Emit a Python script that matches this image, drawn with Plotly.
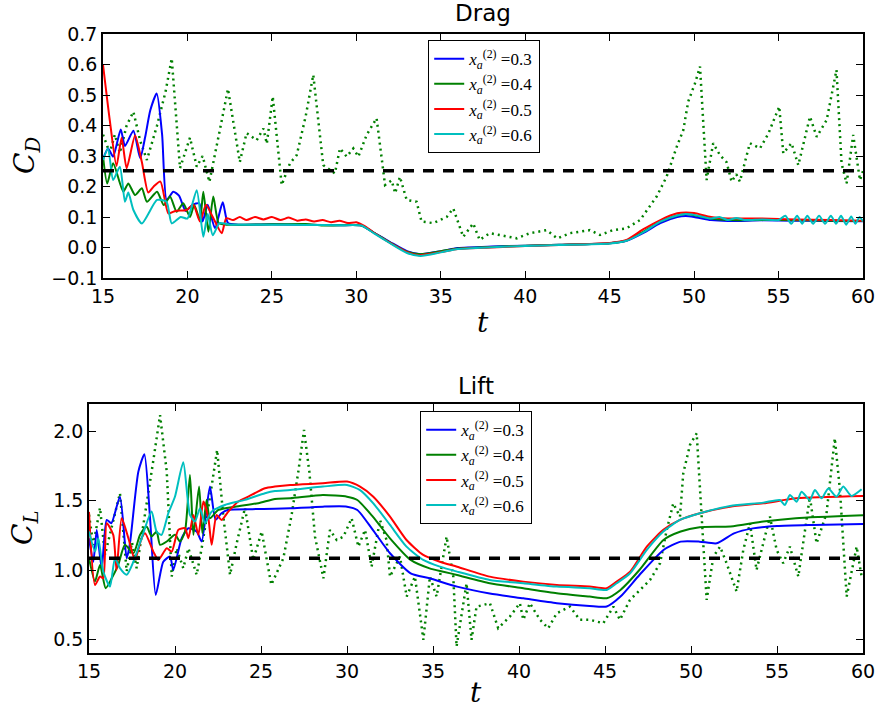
import plotly.graph_objects as go

# ---------------- data ----------------
t_range = [15, 60]
labels = ["0.3", "0.4", "0.5", "0.6"]
colors = ["#0000ff", "#008000", "#ff0000", "#00bfbf"]

cd_mean = 0.252
cl_mean = 1.085

# Drag, reference (dotted)
t_d_ref = [15.0, 15.4, 15.7, 16.0, 16.4, 16.8, 17.2, 17.6, 18.2, 18.7, 19.07, 19.56, 20.15, 20.55, 20.9, 21.3, 21.9, 22.4, 23.1, 23.5,
           24.1, 24.5, 24.7, 25.05, 25.58, 26.07, 26.47, 27.0, 27.45, 28.04, 28.73, 29.03, 29.43, 29.82, 30.12, 30.61, 31.2, 31.7,
           32.09, 32.3, 32.58, 32.98, 33.57, 33.86, 34.56, 35.35, 35.74, 36.33, 36.92, 37.3, 37.9, 38.5, 39.5, 40.28, 41.27, 41.9,
           42.65, 43.24, 43.83, 44.43, 45.2, 46.0, 46.8, 47.78, 48.37, 48.97, 49.36, 49.65, 50.05, 50.35, 50.54, 50.74, 51.13,
           51.53, 51.92, 52.22, 52.5, 52.71, 53.3, 53.9, 54.4, 55.04, 55.28, 55.77, 56.17, 56.86, 57.26, 57.85, 58.43, 58.73,
           59.03, 59.42, 59.82, 60.0]
cd_ref = [0.37, 0.31, 0.37, 0.31, 0.4, 0.445, 0.35, 0.287, 0.4, 0.51, 0.62, 0.26, 0.36, 0.265, 0.3, 0.215, 0.38, 0.52, 0.28, 0.375,
          0.352, 0.39, 0.34, 0.495, 0.205, 0.276, 0.303, 0.43, 0.566, 0.27, 0.243, 0.325, 0.298, 0.325, 0.298, 0.369, 0.424, 0.205,
          0.22, 0.178, 0.232, 0.156, 0.15, 0.085, 0.08, 0.1, 0.128, 0.035, 0.079, 0.025, 0.047, 0.04, 0.03, 0.047, 0.057, 0.03,
          0.047, 0.052, 0.057, 0.041, 0.057, 0.063, 0.09, 0.167, 0.232, 0.33, 0.385, 0.478, 0.538, 0.593, 0.418, 0.221, 0.342,
          0.303, 0.28, 0.216, 0.24, 0.216, 0.342, 0.325, 0.374, 0.462, 0.309, 0.342, 0.27, 0.429, 0.363, 0.418, 0.582, 0.276,
          0.21, 0.369, 0.221, 0.25]

# Drag, controlled cases
t_d_blue = [15.0, 15.3, 15.6, 16.05, 16.3, 16.8, 17.2, 17.5, 17.8, 18.18, 18.5, 18.77, 19.16, 19.5, 19.9, 20.3, 20.7, 20.9, 21.2,
            21.63, 22.09, 22.4, 23, 25, 27, 29, 30.3, 31, 32, 33, 33.8, 35, 36, 38, 40, 42, 45, 46, 47, 48, 49, 49.5, 50, 51,
            52, 54, 56, 58, 60]
cd_blue = [0.29, 0.325, 0.298, 0.387, 0.333, 0.383, 0.293, 0.363, 0.45, 0.505, 0.37, 0.156, 0.183, 0.17, 0.12, 0.14, 0.145, 0.085,
           0.14, 0.063, 0.148, 0.08, 0.075, 0.076, 0.075, 0.073, 0.072, 0.05, 0.018, -0.012, -0.022, -0.012, -0.002, 0.003, 0.006,
           0.009, 0.014, 0.022, 0.048, 0.08, 0.1, 0.103, 0.1, 0.09, 0.087, 0.089, 0.088, 0.087, 0.086]

t_d_green = [15.0, 15.25, 15.6, 16.2, 16.5, 16.9, 17.3, 17.6, 18.2, 18.6, 18.97, 19.36, 19.75, 20.15, 20.4, 20.74, 20.94, 21.24,
             21.53, 21.85, 22.3, 25, 27, 28, 29, 30.3, 31, 32, 33, 33.8, 35, 36, 38, 40, 42, 45, 46, 47, 48, 49, 49.5, 50, 51,
             52, 55, 58, 60]
cd_green = [0.3, 0.21, 0.276, 0.183, 0.21, 0.172, 0.194, 0.15, 0.183, 0.139, 0.167, 0.117, 0.145, 0.1, 0.14, 0.09, 0.183, 0.052,
            0.167, 0.08, 0.075, 0.076, 0.077, 0.072, 0.073, 0.072, 0.05, 0.016, -0.014, -0.022, -0.012, -0.003, 0.002, 0.006,
            0.009, 0.014, 0.023, 0.052, 0.085, 0.105, 0.11, 0.106, 0.095, 0.09, 0.09, 0.088, 0.087]

t_d_red = [15.0, 15.4, 15.8, 16.1, 16.4, 16.9, 17.3, 17.68, 18.0, 18.4, 18.87, 19.3, 19.95, 20.35, 20.74, 21.1, 21.5, 22.03, 22.3,
           22.7, 23.1, 23.5, 24, 24.5, 25, 25.5, 26, 26.5, 27, 27.5, 28, 28.5, 29, 29.5, 30, 30.5, 31, 32, 33, 33.7, 35, 36, 38,
           40, 42, 45, 46, 47, 48, 49, 49.5, 50, 51, 52, 54, 56, 58, 60]
cd_red = [0.6, 0.418, 0.267, 0.36, 0.26, 0.367, 0.28, 0.18, 0.2, 0.216, 0.112, 0.12, 0.123, 0.14, 0.085, 0.14, 0.1, 0.047, 0.096,
          0.09, 0.1, 0.09, 0.1, 0.092, 0.1, 0.09, 0.098, 0.088, 0.092, 0.085, 0.09, 0.083, 0.088, 0.08, 0.083, 0.07, 0.05, 0.015,
          -0.015, -0.025, -0.015, -0.005, 0.0, 0.005, 0.008, 0.015, 0.025, 0.06, 0.09, 0.112, 0.115, 0.113, 0.1, 0.095, 0.095,
          0.092, 0.09, 0.088]

t_d_cyan = [15.0, 15.3, 15.6, 16.0, 16.3, 16.5, 16.8, 17.3, 18.2, 18.76, 19.07, 19.6, 20.0, 20.55, 20.94, 21.2, 21.5, 21.9, 22.5,
            25, 27, 29, 30.3, 31, 32, 33, 33.8, 35, 36, 38, 40, 42, 45, 46, 47, 48, 49, 49.5, 50, 51, 51.5, 52, 52.5, 53, 54,
            55, 55.4, 55.75, 56.1, 56.4, 56.7, 57.05, 57.4, 57.75, 58.1, 58.4, 58.7, 59.0, 59.3, 59.55, 59.8, 60]
cd_cyan = [0.287, 0.325, 0.221, 0.265, 0.15, 0.18, 0.123, 0.079, 0.156, 0.15, 0.079, 0.1, 0.095, 0.188, 0.035, 0.11, 0.04, 0.08,
           0.075, 0.075, 0.074, 0.073, 0.072, 0.048, 0.014, -0.018, -0.028, -0.016, -0.005, 0.001, 0.005, 0.008, 0.013, 0.022,
           0.05, 0.085, 0.105, 0.11, 0.107, 0.095, 0.1, 0.09, 0.097, 0.09, 0.092, 0.09, 0.104, 0.078, 0.104, 0.078, 0.104, 0.078,
           0.104, 0.078, 0.104, 0.078, 0.104, 0.075, 0.102, 0.078, 0.1, 0.085]

# Lift, reference (dotted)
t_l_ref = [15.0, 15.25, 15.64, 15.93, 16.3, 16.8, 17.19, 17.5, 17.77, 18.35, 18.75, 19.13, 19.52, 19.81, 20.1, 20.48, 20.78, 21.26,
           21.55, 22.0, 22.45, 22.8, 23.2, 23.6, 24.07, 24.55, 25.04, 25.6, 26.3, 26.78, 27.17, 27.5, 27.81, 28.14, 28.63, 29.01,
           29.4, 29.79, 30.27, 30.66, 31.05, 31.43, 31.92, 32.3, 32.5, 33.08, 33.47, 33.95, 34.44, 34.82, 35.21, 35.79, 36.18,
           36.37, 36.95, 37.24, 37.53, 38.31, 38.79, 39.47, 40.05, 40.25, 40.63, 41.22, 41.7, 42.19, 42.96, 43.54, 44.13, 44.9,
           45.49, 45.87, 46.45, 47.04, 47.62, 48.2, 48.59, 48.97, 49.36, 49.55, 49.94, 50.33, 50.52, 50.72, 50.91, 51.3, 51.69,
           52.07, 52.65, 53.04, 53.43, 53.81, 54.59, 54.98, 55.36, 55.75, 56.24, 56.91, 57.3, 57.88, 58.36, 58.66, 59.05, 59.63,
           59.92]
cl_ref = [1.40, 1.18, 1.45, 1.11, 1.3, 1.555, 0.99, 1.2, 1.013, 1.47, 1.8, 2.12, 1.711, 0.953, 1.157, 1.013, 1.157, 0.965, 1.157,
          1.5, 1.868, 1.4, 0.965, 1.2, 1.45, 1.073, 1.278, 0.893, 1.085, 1.398, 1.711, 2.012, 1.711, 1.241, 0.94, 1.29, 1.217,
          1.241, 1.374, 1.169, 1.29, 1.024, 1.362, 1.217, 0.952, 1.097, 0.808, 0.952, 0.495, 0.952, 0.808, 1.241, 0.952, 0.447,
          0.904, 0.495, 0.735, 0.76, 0.579, 0.663, 0.76, 0.64, 0.76, 0.64, 0.579, 0.687, 0.735, 0.64, 0.64, 0.615, 0.735, 0.64,
          0.784, 0.856, 0.928, 1.049, 1.29, 1.482, 1.386, 1.699, 1.904, 1.988, 1.578, 1.145, 0.784, 1.097, 1.169, 1.049, 0.844,
          1.145, 1.338, 1.0, 1.386, 1.145, 1.049, 1.169, 0.952, 1.53, 1.193, 1.41, 1.952, 1.578, 0.808, 1.169, 0.952]

# Lift, controlled cases
t_l_blue = [15.0, 15.25, 15.45, 15.74, 16.03, 16.3, 16.8, 17.19, 17.38, 17.87, 18.22, 18.55, 18.88, 19.32, 19.71, 19.9, 20.39,
            20.78, 21.26, 21.55, 22.03, 22.36, 22.7, 23.1, 24.5, 25.8, 26.7, 28.6, 30.0, 30.6, 31.5, 32.5, 33.7, 34.8, 36.4,
            38.3, 40.25, 42.2, 44.1, 45.1, 45.9, 47.0, 48.4, 49.4, 50.5, 51.5, 52.5, 53.6, 55.0, 57.1, 60.0]
cl_blue = [1.23, 1.06, 1.29, 1.01, 1.362, 1.338, 1.53, 1.085, 1.193, 1.711, 1.836, 1.374, 0.82, 1.06, 1.097, 1.0, 1.23, 1.302,
           1.278, 1.206, 1.603, 1.362, 1.41, 1.435, 1.44, 1.442, 1.446, 1.458, 1.458, 1.434, 1.29, 1.121, 0.976, 0.94, 0.88, 0.83,
           0.795, 0.76, 0.74, 0.736, 0.808, 0.964, 1.145, 1.205, 1.205, 1.193, 1.265, 1.301, 1.318, 1.326, 1.333]

t_l_green = [15.0, 15.35, 15.64, 15.97, 16.32, 16.7, 17.09, 17.58, 17.97, 18.35, 18.64, 18.93, 19.13, 19.52, 20.0, 20.29, 20.58,
             20.87, 21.07, 21.4, 21.59, 21.84, 22.03, 22.52, 23.49, 24.84, 25.81, 26.7, 28.6, 30.0, 30.6, 31.5, 32.5, 33.7, 34.8,
             35.6, 36.4, 38.3, 40.25, 42.2, 44.1, 45.1, 45.9, 47.0, 48.4, 49.4, 50.5, 52.3, 54.2, 56.1, 60.0]
cl_green = [1.085, 0.917, 1.037, 0.868, 0.94, 1.037, 1.182, 1.121, 1.254, 1.314, 1.242, 1.278, 1.182, 1.206, 1.254, 1.206, 1.278,
            1.687, 1.254, 1.603, 1.266, 1.507, 1.374, 1.434, 1.458, 1.483, 1.514, 1.518, 1.542, 1.53, 1.506, 1.386, 1.229, 1.073,
            1.012, 0.988, 0.964, 0.904, 0.868, 0.832, 0.808, 0.796, 0.856, 1.0, 1.217, 1.278, 1.309, 1.314, 1.35, 1.374, 1.395]

t_l_red = [15.0, 15.35, 15.64, 15.83, 16.03, 16.41, 16.6, 16.9, 17.29, 17.67, 18.06, 18.26, 18.74, 19.03, 19.52, 19.81, 20.19,
           20.58, 20.78, 21.07, 21.36, 21.65, 21.94, 22.13, 22.42, 22.71, 23.1, 23.68, 24.26, 25.23, 25.81, 26.7, 28.6, 30.0,
           30.76, 31.53, 32.5, 33.46, 34.43, 35.4, 36.4, 38.3, 40.25, 42.2, 44.1, 45.1, 45.68, 46.46, 47.43, 48.39, 49.36, 50.52,
           52.27, 54.2, 56.14, 60.0]
cl_red = [1.42, 0.892, 0.953, 0.94, 1.338, 1.254, 1.0, 1.374, 1.23, 1.073, 1.23, 1.266, 1.133, 1.073, 1.157, 1.133, 1.29, 1.302,
          1.23, 1.398, 1.254, 1.495, 1.374, 1.182, 1.398, 1.362, 1.422, 1.495, 1.531, 1.591, 1.603, 1.615, 1.627, 1.639, 1.603,
          1.53, 1.386, 1.217, 1.109, 1.06, 1.024, 0.952, 0.916, 0.892, 0.88, 0.868, 0.916, 0.988, 1.169, 1.29, 1.362, 1.41, 1.458,
          1.482, 1.518, 1.535]

t_l_cyan = [15.0, 15.35, 15.54, 15.83, 16.22, 16.51, 16.8, 17.19, 17.58, 18.06, 18.64, 18.93, 19.22, 19.61, 20.0, 20.48, 20.87,
            21.16, 21.45, 21.74, 22.13, 22.9, 24.07, 25.23, 25.81, 26.7, 28.6, 30.0, 30.76, 31.53, 32.5, 33.46, 34.43, 35.4, 36.4,
            38.3, 40.25, 42.2, 44.1, 45.1, 45.68, 46.46, 47.43, 48.39, 49.36, 50.52, 52.27, 54.2, 55.17, 55.46, 55.75, 56.14,
            56.43, 56.91, 57.2, 57.59, 57.98, 58.46, 58.85, 59.33, 59.92]
cl_cyan = [1.278, 1.133, 1.23, 0.989, 0.88, 1.085, 1.013, 0.965, 1.06, 1.23, 1.422, 1.278, 1.254, 1.41, 1.531, 1.779, 1.398, 1.35,
           1.446, 1.338, 1.422, 1.47, 1.507, 1.555, 1.571, 1.578, 1.603, 1.615, 1.578, 1.482, 1.326, 1.169, 1.073, 1.024, 0.988,
           0.928, 0.904, 0.88, 0.868, 0.856, 0.904, 0.976, 1.145, 1.278, 1.362, 1.41, 1.463, 1.487, 1.506, 1.47, 1.542, 1.494,
           1.566, 1.506, 1.578, 1.518, 1.59, 1.53, 1.603, 1.535, 1.583]

drag_cases = [(t_d_blue, cd_blue), (t_d_green, cd_green), (t_d_red, cd_red), (t_d_cyan, cd_cyan)]
lift_cases = [(t_l_blue, cl_blue), (t_l_green, cl_green), (t_l_red, cl_red), (t_l_cyan, cl_cyan)]

for tt, vv in drag_cases + lift_cases + [(t_d_ref, cd_ref), (t_l_ref, cl_ref)]:
    if len(tt) != len(vv):
        raise ValueError("length mismatch %d vs %d" % (len(tt), len(vv)))

# ---------------- figure ----------------
W, H = 881, 715
fig = go.Figure()

def leg_name(v):
    return "<i>x</i><sub><i>a</i></sub><sup>(2)</sup> =" + v

# top panel
fig.add_trace(go.Scatter(x=t_d_ref, y=cd_ref, mode="lines", showlegend=False,
                         line=dict(color="#008000", width=2.5, dash="2px,4px"), xaxis="x", yaxis="y"))
for (tt, vv), c, lab in zip(drag_cases, colors, labels):
    fig.add_trace(go.Scatter(x=tt, y=vv, mode="lines", name=leg_name(lab), legend="legend",
                             line=dict(color=c, width=2, shape="spline", smoothing=0.6), xaxis="x", yaxis="y"))
fig.add_trace(go.Scatter(x=t_range, y=[cd_mean, cd_mean], mode="lines", showlegend=False,
                         line=dict(color="black", width=3.5, dash="11px,9px"), xaxis="x", yaxis="y"))

# bottom panel
fig.add_trace(go.Scatter(x=t_l_ref, y=cl_ref, mode="lines", showlegend=False,
                         line=dict(color="#008000", width=2.5, dash="2px,4px"), xaxis="x2", yaxis="y2"))
for (tt, vv), c, lab in zip(lift_cases, colors, labels):
    fig.add_trace(go.Scatter(x=tt, y=vv, mode="lines", name=leg_name(lab), legend="legend2",
                             line=dict(color=c, width=2, shape="spline", smoothing=0.6), xaxis="x2", yaxis="y2"))
fig.add_trace(go.Scatter(x=t_range, y=[cl_mean, cl_mean], mode="lines", showlegend=False,
                         line=dict(color="black", width=3.5, dash="11px,9px"), xaxis="x2", yaxis="y2"))

tick_font = dict(family="DejaVu Sans", size=19, color="black")
axis_common = dict(showline=True, linecolor="black", linewidth=1.5, mirror="ticks", ticks="inside",
                   ticklen=7, tickwidth=1.2, tickcolor="black", showgrid=False, zeroline=False,
                   tickfont=tick_font, automargin=False)

def px2fx(p):
    return p / W

def py2fy(p):
    return 1 - p / H

leg_font = dict(family="Liberation Serif", size=17, color="black")
fig.update_layout(
    width=W, height=H,
    margin=dict(l=0, r=0, t=0, b=0),
    paper_bgcolor="white", plot_bgcolor="white",
    xaxis=dict(domain=[px2fx(103), px2fx(863)], anchor="y", range=t_range, dtick=5, **axis_common),
    yaxis=dict(domain=[py2fy(278), py2fy(34)], anchor="x", range=[-0.1, 0.7], dtick=0.1, tickformat=".1f", **axis_common),
    xaxis2=dict(domain=[px2fx(89), px2fx(863)], anchor="y2", range=t_range, dtick=5, **axis_common),
    yaxis2=dict(domain=[py2fy(653), py2fy(404)], anchor="x2", range=[0.4, 2.2], tickvals=[0.5, 1.0, 1.5, 2.0],
                tickformat=".1f", **axis_common),
    legend=dict(x=px2fx(428), y=py2fy(40), xanchor="left", yanchor="top", bgcolor="white",
                bordercolor="black", borderwidth=1.2, font=leg_font, itemwidth=30, tracegroupgap=0),
    legend2=dict(x=px2fx(420), y=py2fy(411), xanchor="left", yanchor="top", bgcolor="white",
                 bordercolor="black", borderwidth=1.2, font=leg_font, itemwidth=30, tracegroupgap=0),
    showlegend=True,
)

def note(text, x, y, size, family, angle=0):
    return dict(text=text, x=px2fx(x), y=py2fy(y), xref="paper", yref="paper", showarrow=False,
                xanchor="center", yanchor="middle", textangle=angle,
                font=dict(family=family, size=size, color="black"))

ann = [
    note("Drag", 483, 13, 23, "DejaVu Sans"),
    note("Lift", 476, 386, 23, "DejaVu Sans"),
    note("<i>t</i>", 483, 322, 28, "DejaVu Serif"),
    note("<i>t</i>", 476, 692, 28, "DejaVu Serif"),
    note("<i>C</i><sub><i>D</i></sub>", 27, 156, 28, "DejaVu Serif", -90),
    note("<i>C</i><sub><i>L</i></sub>", 24, 528, 28, "DejaVu Serif", -90),
]
fig.update_layout(annotations=ann)

fig.write_html("out.html", config={"displayModeBar": False},
               post_script="document.body.style.margin='0';document.body.style.overflow='hidden';")
